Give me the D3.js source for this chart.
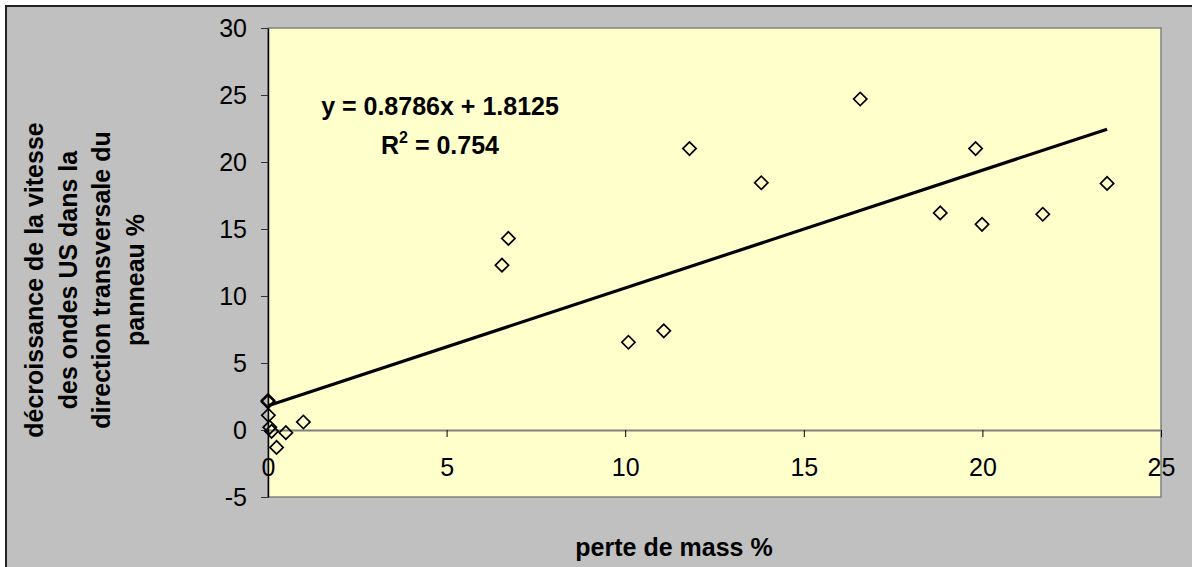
<!DOCTYPE html>
<html>
<head>
<meta charset="utf-8">
<script src="https://cdn.jsdelivr.net/npm/d3@7/dist/d3.min.js"></script>
<style>
  html, body { margin: 0; padding: 0; background: #fff; }
  svg { display: block; font-family: Arial, "Liberation Sans", sans-serif; }
</style>
</head>
<body>
<svg id="chart" width="1192" height="567"></svg>
<script>
// Mass loss (%) vs. decrease of US wave velocity (%)
const massLoss = [0, 0, 0.01, 0.05, 0.1, 0.24, 0.5, 0.99, 6.55, 6.73, 10.09, 11.08, 11.8, 13.81, 16.58, 18.82, 19.81, 19.99, 21.69, 23.49];
const velocityDrop = [2.2, 2.1, 1.1, 0.2, -0.1, -1.3, -0.2, 0.6, 12.3, 14.3, 6.55, 7.4, 21.0, 18.45, 24.7, 16.2, 21.0, 15.35, 16.1, 18.4];

// Linear trend line coefficients and fit quality
const slope = 0.8786;
const intercept = 1.8125;
const rSquared = "0.754";

const xTicks = [0, 5, 10, 15, 20, 25];
const yTicks = [-5, 0, 5, 10, 15, 20, 25, 30];

const xTitle = "perte de mass %";
const yTitleLines = ["décroissance de la vitesse", "des ondes US dans la", "direction transversale du", "panneau %"];

const svg = d3.select("#chart");
const plot = { left: 268, right: 1161, top: 28, bottom: 497 };

// Chart area
svg.append("rect")
  .attr("x", 6).attr("y", 6)
  .attr("width", 1220).attr("height", 600)
  .attr("fill", "#c0c0c0")
  .attr("stroke", "#222").attr("stroke-width", 2);

const x = d3.scaleLinear().domain([0, 25]).range([plot.left, plot.right]);
const y = d3.scaleLinear().domain([-5, 30]).range([plot.bottom, plot.top]);

// Plain hyphen for negative tick labels
const plainNumber = d => String(d);

// Plot area
svg.append("rect")
  .attr("x", plot.left).attr("y", plot.top)
  .attr("width", plot.right - plot.left).attr("height", plot.bottom - plot.top)
  .attr("fill", "#ffffcc")
  .attr("stroke", "#808080").attr("stroke-width", 1.5);

// X axis crossing at y = 0
const xAxis = svg.append("g")
  .attr("transform", `translate(0,${y(0)})`)
  .call(d3.axisBottom(x).tickValues(xTicks).tickFormat(plainNumber)
    .tickSize(7).tickSizeOuter(0).tickPadding(21));
xAxis.select(".domain").attr("stroke", "#808080").attr("stroke-width", 2);
xAxis.selectAll(".tick line").attr("stroke", "#000").attr("stroke-width", 1);
xAxis.selectAll(".tick text")
  .attr("fill", "#000")
  .style("font-size", "25px")
  .style("font-family", "Arial, 'Liberation Sans', sans-serif");

// Y axis at x = 0
const yAxis = svg.append("g")
  .attr("transform", `translate(${x(0)},0)`)
  .call(d3.axisLeft(y).tickValues(yTicks).tickFormat(plainNumber)
    .tickSize(7).tickSizeOuter(0).tickPadding(14));
yAxis.select(".domain").attr("stroke", "#000").attr("stroke-width", 1.5);
yAxis.selectAll(".tick line").attr("stroke", "#333").attr("stroke-width", 1);
yAxis.selectAll(".tick text")
  .attr("fill", "#000")
  .style("font-size", "25px")
  .style("font-family", "Arial, 'Liberation Sans', sans-serif");

// Trend line over the range of the data
const xMax = d3.max(massLoss);
svg.append("line")
  .attr("x1", x(0)).attr("y1", y(intercept))
  .attr("x2", x(xMax)).attr("y2", y(slope * xMax + intercept))
  .attr("stroke", "#000").attr("stroke-width", 3.2);

// Hollow diamond markers
const diamond = d3.symbol().type(d3.symbolSquare).size(88);
svg.append("g").selectAll("path")
  .data(massLoss.map((v, i) => [v, velocityDrop[i]]))
  .join("path")
  .attr("d", diamond)
  .attr("transform", d => `translate(${x(d[0])},${y(d[1])}) rotate(45)`)
  .attr("fill", "none")
  .attr("stroke", "#000")
  .attr("stroke-width", 1.7);

// Regression equation
const eq = svg.append("g")
  .style("font-weight", "bold")
  .style("font-size", "25px")
  .attr("text-anchor", "middle");
eq.append("text")
  .attr("x", 440).attr("y", 114.5)
  .text(`y = ${slope}x + ${intercept}`);
const r2 = eq.append("text").attr("x", 440).attr("y", 154);
r2.append("tspan").text("R");
r2.append("tspan").attr("dy", -11).style("font-size", "16px").text("2");
r2.append("tspan").attr("dy", 11).text(` = ${rSquared}`);

// Axis titles
svg.append("text")
  .attr("x", 674).attr("y", 556)
  .attr("text-anchor", "middle")
  .style("font-weight", "bold").style("font-size", "25px")
  .text(xTitle);

const yTitle = svg.append("text")
  .attr("transform", "translate(0,280) rotate(-90)")
  .attr("text-anchor", "middle")
  .style("font-weight", "bold").style("font-size", "25px");
yTitle.selectAll("tspan")
  .data(yTitleLines)
  .join("tspan")
  .attr("x", 0)
  .attr("y", (d, i) => 43 + i * 33.5)
  .text(d => d);
</script>
</body>
</html>
